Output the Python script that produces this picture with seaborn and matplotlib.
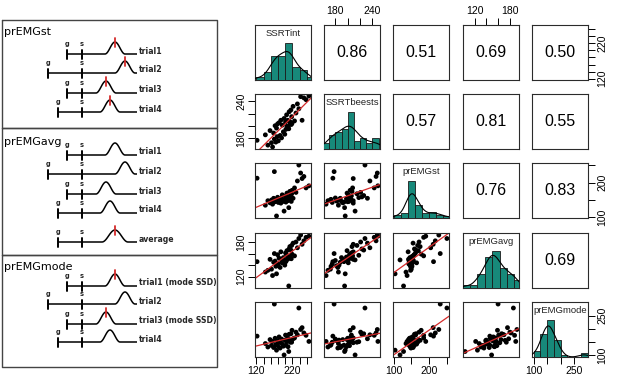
import numpy as np
import pandas as pd
import matplotlib
matplotlib.use("Agg")
import matplotlib.pyplot as plt
import seaborn as sns

# ---------------- data ----------------
var_names = ["SSRTint", "SSRTbeests", "prEMGst", "prEMGavg", "prEMGmode"]

SSRTint = [122, 145, 152, 158, 162, 165, 168, 170, 172, 174, 176, 178, 179, 181, 183,
           186, 188, 190, 192, 195, 197, 199, 201, 202, 204, 205, 207, 208, 210, 211,
           213, 214, 216, 217, 218, 219, 222, 226, 230, 234, 238, 243, 247, 252, 258, 266]
SSRTbeests = [176, 185, 168, 192, 172, 165, 188, 178, 200, 173, 196, 182, 203, 175, 205,
              184, 209, 180, 201, 190, 212, 186, 206, 194, 218, 199, 209, 198, 195, 223,
              207, 203, 226, 202, 215, 204, 232, 208, 221, 236, 228, 248, 209, 246, 243, 249]
prEMGst = [213, 135, 148, 142, 150, 138, 155, 232, 145, 152, 104, 147, 158, 143, 153,
           149, 141, 156, 165, 146, 118, 151, 162, 144, 157, 170, 148, 154, 128, 159,
           175, 152, 163, 146, 168, 178, 155, 185, 172, 205, 251, 228, 212, 218, 185, 191]
prEMGavg = [146, 128, 131, 150, 133, 122, 145, 160, 147, 138, 125, 139, 158, 142, 152,
            136, 163, 148, 144, 153, 149, 140, 161, 146, 157, 165, 150, 154, 104, 168,
            172, 155, 166, 151, 174, 159, 178, 156, 180, 170, 186, 192, 176, 182, 188, 190]
prEMGmode = [173, 145, 132, 160, 138, 153, 130, 294, 165, 141, 120, 156, 137, 150, 170,
             128, 148, 162, 143, 135, 102, 158, 177, 139, 152, 160, 166, 133, 115, 180,
             157, 150, 182, 155, 150, 195, 163, 166, 188, 178, 279, 198, 205, 185, 176, 153]

# correlation labels shown in the upper panels (row, col) -> text
corr_pairs = [(0, 1), (0, 2), (0, 3), (0, 4), (1, 2), (1, 3), (1, 4), (2, 3), (2, 4), (3, 4)]
corr_text = ["0.86", "0.51", "0.69", "0.50", "0.57", "0.81", "0.55", "0.76", "0.83", "0.69"]

# histogram bin edges for the diagonal
hist_bins = {
    "SSRTint": [120, 140, 160, 180, 200, 220, 240, 260, 280],
    "SSRTbeests": [160, 170, 180, 190, 200, 210, 220, 230, 240, 250],
    "prEMGst": [100, 120, 140, 160, 180, 200, 220, 240, 260],
    "prEMGavg": [100, 112.5, 125, 137.5, 150, 162.5, 175, 187.5, 200],
    "prEMGmode": [100, 125, 150, 175, 200, 225, 250, 275, 300],
}

# outer axis ticks and labels ('' = tick without label)
axis_ticks = {
    "SSRTint": ([120, 140, 160, 180, 200, 220, 240, 260], ["120", "", "", "", "", "220", "", ""]),
    "SSRTbeests": ([180, 200, 220, 240], ["180", "", "", "240"]),
    "prEMGst": ([100, 150, 200, 250], ["100", "", "200", ""]),
    "prEMGavg": ([120, 140, 160, 180], ["120", "", "", "180"]),
    "prEMGmode": ([100, 150, 200, 250], ["100", "", "", "250"]),
}

# schematic (left) content
panel_titles = ["prEMGst", "prEMGavg", "prEMGmode"]
trial_labels = [["trial1", "trial2", "trial3", "trial4"],
                ["trial1", "trial2", "trial3", "trial4", "average"],
                ["trial1 (mode SSD)", "trial2", "trial3 (mode SSD)", "trial4"]]
red_marks = [[True, True, True, True],
             [False, False, False, False, True],
             [True, False, True, False]]

# ---------------- style ----------------
sns.set_theme(style="white")
plt.rcParams["font.family"] = ["Liberation Sans", "DejaVu Sans"]

W, H = 617, 386
fig = plt.figure(figsize=(W / 100, H / 100), dpi=100)

teal = "#17897a"
red = "#d42a2a"
frame = "#2b2b2b"

# ---------------- schematic on a pixel-coordinate overlay ----------------
bg = fig.add_axes([0, 0, 1, 1])
bg.set_xlim(0, W)
bg.set_ylim(H, 0)
bg.axis("off")

box_y = [(20, 128), (128, 255), (255, 367)]
title_y = [32, 142, 267]
base_y = [[54, 73, 93, 112], [155, 174, 194, 213, 242], [286, 304, 324, 342]]
g_x = [[67, 48, 67, 58], [67, 48, 67, 58, 58], [67, 48, 67, 58]]
peak_x = [[115, 125, 106, 110], [115, 125, 106, 110, 115], [115, 125, 106, 110]]
bump_w = [[20, 20, 20, 20], [20, 20, 20, 20, 26], [20, 20, 20, 20]]
s_x = 82
line_end = 137
bump_h = 12

for b in range(3):
    y0, y1 = box_y[b]
    bg.plot([1.5, 217, 217, 1.5, 1.5], [y0, y0, y1, y1, y0], color="#444444", lw=1.0)
    bg.text(4, title_y[b], panel_titles[b], fontsize=8, family="DejaVu Sans",
            va="center", ha="left", color="black")
    for k, lab in enumerate(trial_labels[b]):
        yb = base_y[b][k]
        pk = peak_x[b][k]
        bw = bump_w[b][k]
        t = np.linspace(0, 1, 60)
        bx = pk - bw / 2 + bw * t
        by = yb - bump_h * (1 - np.cos(2 * np.pi * t)) / 2
        xs = np.concatenate([[g_x[b][k]], bx, [line_end]])
        ys = np.concatenate([[yb], by, [yb]])
        bg.plot(xs, ys, color="black", lw=1.1, solid_capstyle="butt")
        for tx, lt in [(g_x[b][k], "g"), (s_x, "s")]:
            bg.plot([tx, tx], [yb - 4, yb + 5], color="black", lw=1.4)
            bg.text(tx, yb - 7, lt, fontsize=4.8, family="DejaVu Sans", weight="bold",
                    ha="center", va="bottom")
        if red_marks[b][k]:
            bg.plot([pk, pk], [yb - bump_h - 4, yb - bump_h + 5], color=red, lw=1.3)
        bg.text(line_end + 2, yb - 3, lab, fontsize=5.6, family="DejaVu Sans",
                weight="bold", ha="left", va="center")

# ---------------- pairs matrix ----------------
df = pd.DataFrame({"SSRTint": SSRTint, "SSRTbeests": SSRTbeests, "prEMGst": prEMGst,
                   "prEMGavg": prEMGavg, "prEMGmode": prEMGmode})
lims = {}
for v in var_names:
    lo, hi = df[v].min(), df[v].max()
    pad = 0.04 * (hi - lo)
    lims[v] = (lo - pad, hi + pad)

col_x = [255, 324, 393, 463, 532]
row_y = [25, 94, 163, 233, 302]
pw, ph = 56, 55
n = len(var_names)
corr_map = dict(zip(corr_pairs, corr_text))

tick_kw = dict(length=5, width=0.7, labelsize=7.5, pad=1.5, colors="black")

for i in range(n):
    for j in range(n):
        ax = fig.add_axes([col_x[j] / W, 1 - (row_y[i] + ph) / H, pw / W, ph / H])
        xv, yv = var_names[j], var_names[i]
        ax.set_xlim(lims[xv])
        ax.set_ylim(lims[yv])
        if i > j:
            sns.scatterplot(x=df[xv], y=df[yv], ax=ax, color="black", s=12,
                            linewidth=0, edgecolor="none")
            sns.regplot(x=df[xv], y=df[yv], ax=ax, scatter=False, ci=None,
                        truncate=False, line_kws=dict(color=red, lw=0.9))
            ax.set_xlim(lims[xv])
            ax.set_ylim(lims[yv])
        elif i < j:
            ax.text(0.5, 0.5, corr_map[(i, j)], transform=ax.transAxes,
                    ha="center", va="center", fontsize=11.5, color="black")
        else:
            hax = ax.twinx()
            sns.histplot(x=df[xv], ax=hax, bins=hist_bins[xv], stat="density",
                         color=teal, alpha=1, edgecolor="#1a1a1a", linewidth=0.6)
            sns.kdeplot(x=df[xv], ax=hax, color="black", lw=0.8)
            dens, _ = np.histogram(df[xv], bins=hist_bins[xv], density=True)
            hax.set_ylim(0, 1.5 * dens.max())
            hax.set_xlim(lims[xv])
            hax.set_yticks([])
            hax.set_ylabel("")
            hax.set_xlabel("")
            for sp in hax.spines.values():
                sp.set_visible(False)
            hax.text(0.5, 0.84, xv, transform=hax.transAxes, ha="center",
                     va="center", fontsize=6.8, color="#222222")
        ax.set_xlabel("")
        ax.set_ylabel("")
        ax.set_xticks([])
        ax.set_yticks([])
        for sp in ax.spines.values():
            sp.set_visible(True)
            sp.set_color(frame)
            sp.set_linewidth(0.8)

        # outer axes (R pairs style alternation)
        if (j % 2 == 0 and i == n - 1) or (j % 2 == 1 and i == 0):
            tk, tl = axis_ticks[xv]
            ax.set_xticks(tk)
            ax.set_xticklabels(tl)
            if i == 0:
                ax.xaxis.tick_top()
            else:
                ax.xaxis.tick_bottom()
            ax.tick_params(axis="x", **tick_kw)
        if (i % 2 == 0 and j == n - 1) or (i % 2 == 1 and j == 0):
            tk, tl = axis_ticks[yv]
            ax.set_yticks(tk)
            ax.set_yticklabels(tl, rotation=90, va="center")
            if j == n - 1:
                ax.yaxis.tick_right()
            else:
                ax.yaxis.tick_left()
            ax.tick_params(axis="y", **tick_kw)
        ax.set_xlim(lims[xv])
        ax.set_ylim(lims[yv])

fig.savefig("out.png", dpi=100, facecolor="white")
